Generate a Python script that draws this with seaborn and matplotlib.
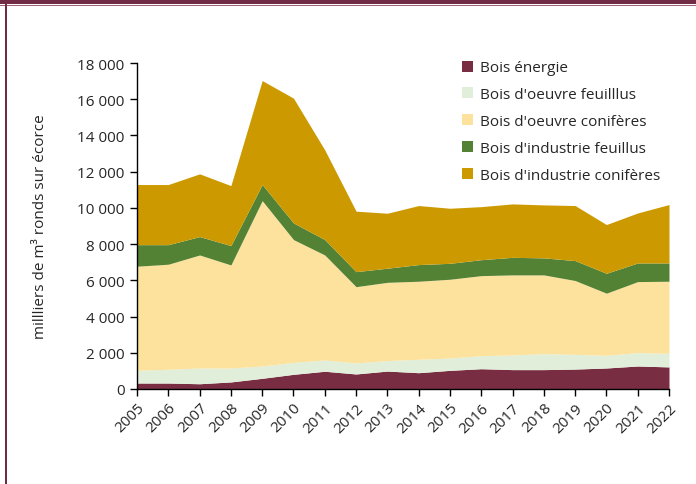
import numpy as np
import matplotlib
matplotlib.use("Agg")
import matplotlib.pyplot as plt
from matplotlib.patches import Rectangle, Patch
from matplotlib.ticker import FuncFormatter
import seaborn as sns

# Data (milliers de m3 ronds sur écorce)
years = list(range(2005, 2023))
bois_energie = [330, 330, 290, 390, 590, 810, 980, 830, 990, 900, 1030, 1120, 1070, 1070, 1100, 1160, 1270, 1220]
oeuvre_feuillus = [700, 760, 870, 770, 680, 660, 620, 610, 580, 740, 680, 720, 810, 880, 810, 700, 740, 750]
oeuvre_coniferes = [5750, 5800, 6240, 5690, 9130, 6780, 5800, 4210, 4320, 4310, 4350, 4420, 4420, 4350, 4080, 3430, 3920, 3980]
industrie_feuillus = [1190, 1080, 1015, 1070, 890, 920, 850, 830, 780, 920, 880, 880, 970, 940, 1100, 1100, 1030, 1010]
industrie_coniferes = [3320, 3320, 3465, 3310, 5740, 6890, 4950, 3340, 3035, 3260, 3040, 2930, 2950, 2925, 3040, 2690, 2760, 3225]

labels = ["Bois énergie", "Bois d'oeuvre feuilllus", "Bois d'oeuvre conifères",
          "Bois d'industrie feuillus", "Bois d'industrie conifères"]
colors = ["#782D43", "#E1EED9", "#FDE29D", "#548235", "#CC9A00"]

sns.set_theme(style="ticks")
plt.rcParams["font.family"] = ["Open Sans", "DejaVu Sans"]

fig = plt.figure(figsize=(6.96, 4.85), dpi=100)
ax = fig.add_axes([137 / 696, 95 / 485, 532 / 696, 326 / 485])

ax.stackplot(years, bois_energie, oeuvre_feuillus, oeuvre_coniferes,
             industrie_feuillus, industrie_coniferes, colors=colors, linewidth=0)

ax.set_xlim(2005, 2022)
ax.set_ylim(0, 18000)
ax.set_xticks(years)
ax.set_xticklabels([str(y) for y in years], rotation=45, ha="right",
                   rotation_mode="anchor", fontsize=11)
ax.set_yticks(range(0, 18001, 2000))
ax.yaxis.set_major_formatter(FuncFormatter(lambda v, p: f"{int(v):,}".replace(",", " ")))
ax.tick_params(axis="y", labelsize=11, length=5, width=1, color="black", pad=4)
ax.tick_params(axis="x", length=5, width=1, color="black", pad=3)
ax.set_ylabel("millliers de m³ ronds sur écorce", fontsize=11, labelpad=21)
ax.spines["top"].set_visible(False)
ax.spines["right"].set_visible(False)
for s in ["left", "bottom"]:
    ax.spines[s].set_color("black")
    ax.spines[s].set_linewidth(1)

handles = [Patch(facecolor=c, edgecolor="none") for c in colors]
leg = ax.legend(handles, labels, loc="upper left",
                bbox_to_anchor=(0.585, 1.05), frameon=False, fontsize=11,
                handlelength=0.75, handleheight=0.75, handletextpad=0.4,
                labelspacing=0.77)

# page frame
fig.add_artist(Rectangle((0, 1 - 5 / 485), 1, 5 / 485, transform=fig.transFigure,
                         facecolor="#722B45", edgecolor="none"))
fig.add_artist(Rectangle((0, 1 - 7 / 485), 1, 1 / 485, transform=fig.transFigure,
                         facecolor="#A06078", edgecolor="none"))
fig.add_artist(Rectangle((5 / 696, 0), 2 / 696, 1, transform=fig.transFigure,
                         facecolor="#722B45", edgecolor="none"))

fig.savefig("out.png", dpi=100)
